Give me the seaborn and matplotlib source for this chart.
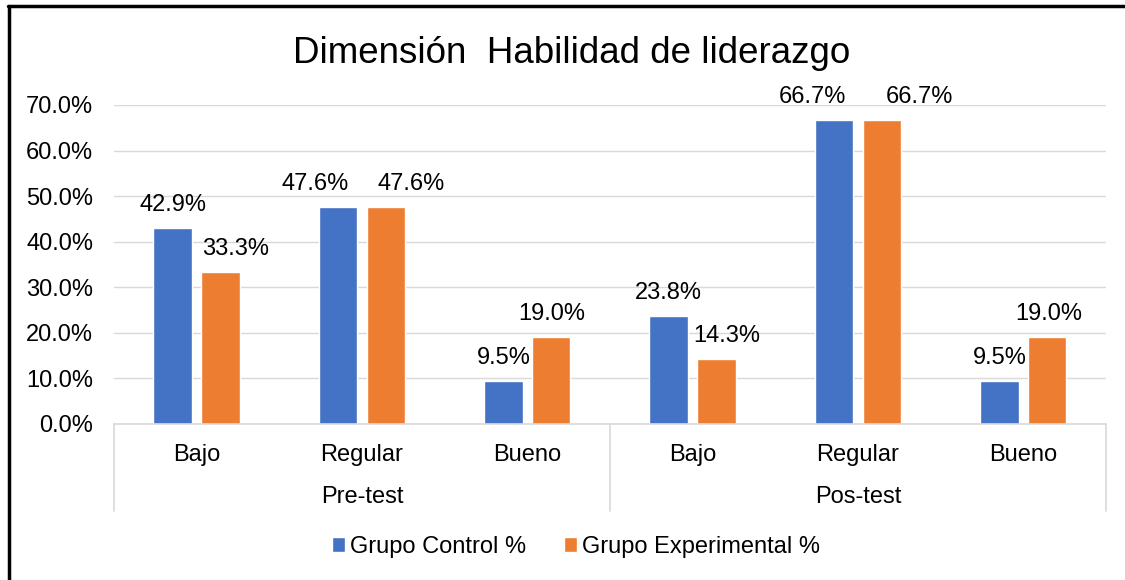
import matplotlib
matplotlib.use("Agg")
import matplotlib.pyplot as plt
from matplotlib.lines import Line2D
from matplotlib.patches import Patch
import pandas as pd
import seaborn as sns

momentos = ["Pre-test", "Pos-test"]
niveles = ["Bajo", "Regular", "Bueno"]
grupos = ["Grupo Control %", "Grupo Experimental %"]
control = [42.9, 47.6, 9.5, 23.8, 66.7, 9.5]
experimental = [33.3, 47.6, 19.0, 14.3, 66.7, 19.0]
colores = ["#4472C4", "#ED7D31"]
yticks = [0, 10, 20, 30, 40, 50, 60, 70]

# desplazamiento horizontal de las etiquetas (px), como quedaron en Excel
desp_control = [0, -23, 0, 0, -22, 0]
desp_experimental = [15, 25, 0, 10, 37, 1]

claves = [f"{m}|{n}" for m in momentos for n in niveles]
df = pd.DataFrame({
    "clave": claves * 2,
    "grupo": [grupos[0]] * len(claves) + [grupos[1]] * len(claves),
    "valor": control + experimental,
})

sns.set_style("white")
plt.rcParams["font.family"] = ["Liberation Sans", "DejaVu Sans"]
plt.rcParams["text.color"] = "black"
FS = 17

fig = plt.figure(figsize=(11.25, 5.8), dpi=100)
ax = fig.add_axes([0.1013, 0.269, 0.8818, 0.55])
sns.barplot(data=df, x="clave", y="valor", hue="grupo", order=claves,
            hue_order=grupos, palette=colores, width=0.58, gap=0.2,
            errorbar=None, saturation=1, legend=False, ax=ax)

px = 0.72  # puntos por pixel a dpi 100
for cont, desp in zip(ax.containers, [desp_control, desp_experimental]):
    for barra, v, dx in zip(cont, cont.datavalues, desp):
        ax.annotate(f"{v:.1f}%",
                    (barra.get_x() + barra.get_width() / 2, barra.get_height()),
                    xytext=(dx * px, 23 * px), textcoords="offset points",
                    ha="center", va="center", fontsize=FS, color="black")

ax.set_ylim(0, 70)
ax.set_yticks(yticks)
ax.set_yticklabels([f"{v:.1f}%" for v in yticks])
ax.tick_params(axis="y", length=0, pad=15, labelsize=FS, labelcolor="black")
ax.set_xticks([])
ax.set_xlabel("")
ax.set_ylabel("")
ax.yaxis.grid(True, color="#D9D9D9", lw=1)
ax.set_axisbelow(True)
for s in ["top", "right", "left"]:
    ax.spines[s].set_visible(False)
ax.spines["bottom"].set_color("#D9D9D9")
ax.spines["bottom"].set_linewidth(1.2)

# etiquetas de categoria en dos niveles
xt = ax.get_xaxis_transform()
for i, clave in enumerate(claves):
    ax.text(i, -0.097, clave.split("|")[1], transform=xt, ha="center",
            va="center", fontsize=FS)
for j, m in enumerate(momentos):
    ax.text(j * 3 + 1, -0.229, m, transform=xt, ha="center", va="center",
            fontsize=FS)
for xs in [-0.5, 2.5, 5.5]:
    ax.add_line(Line2D([xs, xs], [0, -0.273], transform=xt, color="#D9D9D9",
                       lw=1.2, clip_on=False))

fig.text(0.508, 0.908, "Dimensión  Habilidad de liderazgo", ha="center",
         va="center", fontsize=26.5)

handles = [Patch(facecolor=c, label=g) for c, g in zip(colores, grupos)]
fig.legend(handles=handles, loc="center", bbox_to_anchor=(0.512, 0.057),
           ncol=2, frameon=False, fontsize=FS, handlelength=0.55,
           handleheight=0.55, handletextpad=0.2, columnspacing=1.6)

# marco del grafico (solo visible arriba e izquierda)
fig.add_artist(Line2D([8 / 1125, 1], [1 - 6 / 580] * 2, color="black", lw=2.5,
                      transform=fig.transFigure))
fig.add_artist(Line2D([9 / 1125] * 2, [0, 1 - 6 / 580], color="black", lw=2.5,
                      transform=fig.transFigure))

fig.savefig("out.png", dpi=100)
plt.close(fig)
